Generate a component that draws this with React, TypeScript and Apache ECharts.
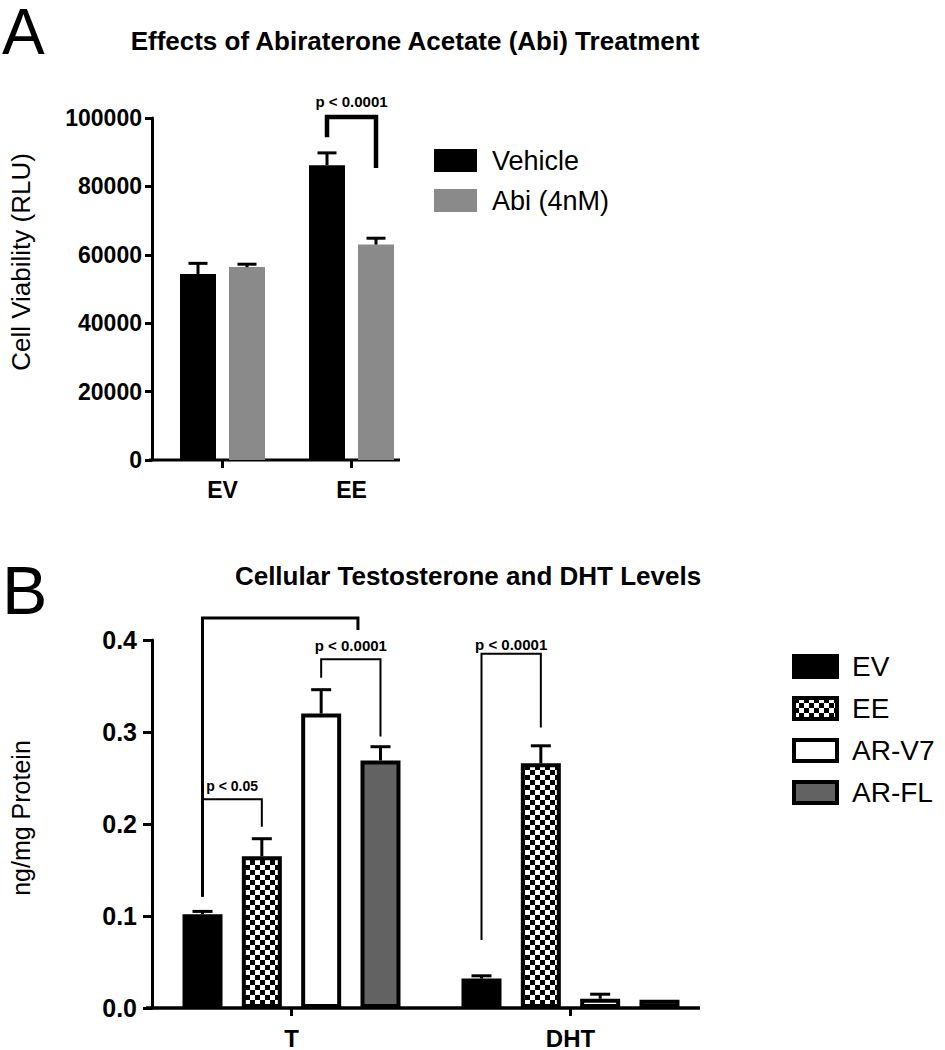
import React, { useEffect, useRef } from 'react';
import * as echarts from 'echarts';

// ---------- Panel A data ----------
const aCategories = ['EV', 'EE'];
const aSeriesNames = ['Vehicle', 'Abi (4nM)'];
const aVehicle = [54400, 86200];
const aVehicleSem = [3100, 3600];
const aAbi = [56400, 63000];
const aAbiSem = [850, 1850];
// bracket: [category, leftBar, rightBar, leftBottom, top, rightBottom]
const aBrackets = [[1, 0, 1, 94400, 100300, 85400]];
const aBracketLabels = ['p < 0.0001'];

// ---------- Panel B data ----------
const bCategories = ['T', 'DHT'];
const bSeriesNames = ['EV', 'EE', 'AR-V7', 'AR-FL'];
const bEV = [0.102, 0.032];
const bEVSem = [0.003, 0.003];
const bEE = [0.165, 0.266];
const bEESem = [0.019, 0.019];
const bARV7 = [0.32, 0.01];
const bARV7Sem = [0.026, 0.005];
const bARFL = [0.269, 0.009];
const bARFLSem = [0.015, 0.0];
const bBrackets = [
  [0, 0, 2.62, 0.121, 0.424, 0.411],
  [0, 0, 1, 0.121, 0.227, 0.197],
  [0, 2, 3, 0.359, 0.379, 0.295],
  [1, 0, 1, 0.074, 0.385, 0.305],
];
const bBracketLabels = ['', 'p < 0.05', 'p < 0.0001', 'p < 0.0001'];

const FONT = "'Liberation Sans', Arial, sans-serif";

// layout constants
const A_BAR_W = 36;
const A_STEP = 49;
const B_BAR_W = 40;
const B_STEP = 59.33;

function errorRenderer(step: number, n: number, capHalf: number, lw: number) {
  return (params: any, api: any) => {
    const cat = api.value(0);
    const mean = api.value(1);
    const top = api.value(2);
    const si = api.value(3);
    const base = api.coord([cat, mean]);
    const t = api.coord([cat, top]);
    const x = base[0] + (si - (n - 1) / 2) * step;
    if (top <= mean) return { type: 'group', children: [] };
    return {
      type: 'group',
      children: [
        { type: 'line', shape: { x1: x, y1: base[1], x2: x, y2: t[1] }, style: { stroke: '#000', lineWidth: lw } },
        { type: 'line', shape: { x1: x - capHalf, y1: t[1], x2: x + capHalf, y2: t[1] }, style: { stroke: '#000', lineWidth: lw } },
      ],
    };
  };
}

function bracketRenderer(labels: string[], gaps: number[], fonts: string[], widths: number[], step: number, n: number) {
  return (params: any, api: any) => {
    const i = params.dataIndex;
    const lw = widths[i];
    const cat = api.value(0);
    const center = api.coord([cat, 0])[0];
    const xl = center + (api.value(1) - (n - 1) / 2) * step;
    const xr = center + (api.value(2) - (n - 1) / 2) * step;
    const yl = api.coord([cat, api.value(3)])[1];
    const yt = api.coord([cat, api.value(4)])[1];
    const yr = api.coord([cat, api.value(5)])[1];
    const children: any[] = [
      {
        type: 'polyline',
        shape: { points: [[xl, yl], [xl, yt], [xr, yt], [xr, yr]] },
        style: { stroke: '#000', lineWidth: lw, fill: 'none', lineJoin: 'miter' },
      },
    ];
    if (labels[i]) {
      children.push({
        type: 'text',
        x: (xl + xr) / 2,
        y: yt - lw / 2 - gaps[i],
        style: { text: labels[i], fill: '#000', font: fonts[i], align: 'center', verticalAlign: 'bottom' },
      });
    }
    return { type: 'group', children };
  };
}

export default function App() {
  const ref = useRef<HTMLDivElement>(null);

  useEffect(() => {
    if (!ref.current) return;
    const chart = echarts.init(ref.current, undefined, { renderer: 'svg' });

    const cv = document.createElement('canvas');
    cv.width = 10;
    cv.height = 10;
    const ctx = cv.getContext('2d')!;
    ctx.fillStyle = '#fff';
    ctx.fillRect(0, 0, 10, 10);
    ctx.fillStyle = '#000';
    ctx.fillRect(0, 0, 5, 5);
    ctx.fillRect(5, 5, 5, 5);
    const checker: any = { image: cv, repeat: 'repeat', imageWidth: 10, imageHeight: 10 };

    const aErr: any[] = [];
    aCategories.forEach((_, c) => {
      aErr.push([c, aVehicle[c], aVehicle[c] + aVehicleSem[c], 0]);
      aErr.push([c, aAbi[c], aAbi[c] + aAbiSem[c], 1]);
    });
    const bMeans = [bEV, bEE, bARV7, bARFL];
    const bSems = [bEVSem, bEESem, bARV7Sem, bARFLSem];
    const bErr: any[] = [];
    bCategories.forEach((_, c) => {
      bMeans.forEach((m, s) => bErr.push([c, m[c], m[c] + bSems[s][c], s]));
    });
    const bFills = ['#000', checker, '#fff', '#626262'];

    const axisLabelBold = (size: number) => ({ color: '#000', fontWeight: 'bold', fontSize: size, fontFamily: FONT });

    const option: any = {
      animation: false,
      backgroundColor: '#fff',
      textStyle: { fontFamily: FONT, color: '#000' },
      grid: [
        { left: 158, top: 118, width: 258, height: 342 },
        { left: 152, top: 640, width: 558, height: 368 },
      ],
      xAxis: [
        {
          type: 'category', gridIndex: 0, data: aCategories,
          axisLine: { show: false },
          axisTick: { show: true, alignWithLabel: true, length: 8, lineStyle: { color: '#000', width: 3 } },
          axisLabel: { ...axisLabelBold(23), margin: 18 },
        },
        {
          type: 'category', gridIndex: 1, data: bCategories,
          axisLine: { show: false },
          axisTick: { show: true, alignWithLabel: true, length: 8, lineStyle: { color: '#000', width: 3 } },
          axisLabel: { ...axisLabelBold(24), margin: 18 },
        },
      ],
      yAxis: [
        {
          type: 'value', gridIndex: 0, min: 0, max: 100000, interval: 20000, offset: 6,
          axisLine: { show: true, lineStyle: { color: '#000', width: 3 } },
          axisTick: { show: true, length: 7, lineStyle: { color: '#000', width: 3 } },
          axisLabel: { ...axisLabelBold(23), margin: 10, formatter: (v: number) => String(v) },
          splitLine: { show: false },
        },
        {
          type: 'value', gridIndex: 1, min: 0, max: 0.4, interval: 0.1,
          axisLine: { show: true, lineStyle: { color: '#000', width: 3 } },
          axisTick: { show: true, length: 9, lineStyle: { color: '#000', width: 3 } },
          axisLabel: { ...axisLabelBold(25), margin: 15, formatter: (v: number) => v.toFixed(1) },
          splitLine: { show: false },
        },
      ],
      legend: [
        {
          data: aSeriesNames, orient: 'vertical', left: 434, top: 147, padding: 0,
          icon: 'rect', itemWidth: 43, itemHeight: 23, itemGap: 13,
          textStyle: { fontSize: 27, color: '#000', fontFamily: FONT, lineHeight: 26, padding: [0, 0, 0, 10] },
        },
        {
          data: bSeriesNames, orient: 'vertical', left: 792, top: 652, padding: 0,
          icon: 'rect', itemWidth: 43, itemHeight: 21, itemGap: 13,
          itemStyle: { borderColor: '#000', borderWidth: 4 },
          textStyle: { fontSize: 28, color: '#000', fontFamily: FONT, lineHeight: 29, padding: [0, 0, 0, 10] },
        },
      ],
      graphic: [
        { type: 'text', left: 2, top: 0, style: { text: 'A', font: `64px ${FONT}`, fill: '#000' } },
        { type: 'text', left: 2, top: 556, style: { text: 'B', font: `68px ${FONT}`, fill: '#000' } },
        { type: 'text', x: 415, y: 41, style: { text: 'Effects of Abiraterone Acetate (Abi) Treatment', font: `bold 26px ${FONT}`, fill: '#000', align: 'center', verticalAlign: 'middle' } },
        { type: 'text', x: 468, y: 576, style: { text: 'Cellular Testosterone and DHT Levels', font: `bold 26px ${FONT}`, fill: '#000', align: 'center', verticalAlign: 'middle' } },
        { type: 'text', x: 21, y: 262, rotation: Math.PI / 2, style: { text: 'Cell Viability (RLU)', font: `26px ${FONT}`, fill: '#000', align: 'center', verticalAlign: 'middle' } },
        { type: 'text', x: 21, y: 818, rotation: Math.PI / 2, style: { text: 'ng/mg Protein', font: `25px ${FONT}`, fill: '#000', align: 'center', verticalAlign: 'middle' } },
        { type: 'line', shape: { x1: 149, y1: 460, x2: 400, y2: 460 }, style: { stroke: '#000', lineWidth: 3 } },
        { type: 'line', shape: { x1: 146, y1: 1008, x2: 700, y2: 1008 }, style: { stroke: '#000', lineWidth: 3.5 } },
      ],
      series: [
        {
          type: 'bar', name: aSeriesNames[0], xAxisIndex: 0, yAxisIndex: 0, data: aVehicle,
          barWidth: A_BAR_W, barGap: `${((A_STEP - A_BAR_W) / A_BAR_W) * 100}%`,
          itemStyle: { color: '#000' },
        },
        {
          type: 'bar', name: aSeriesNames[1], xAxisIndex: 0, yAxisIndex: 0, data: aAbi,
          barWidth: A_BAR_W, barGap: `${((A_STEP - A_BAR_W) / A_BAR_W) * 100}%`,
          itemStyle: { color: '#8a8a8a' },
        },
        ...bSeriesNames.map((name, s) => ({
          type: 'bar', name, xAxisIndex: 1, yAxisIndex: 1, data: bMeans[s],
          barWidth: B_BAR_W, barGap: `${((B_STEP - B_BAR_W) / B_BAR_W) * 100}%`,
          itemStyle: { color: bFills[s], borderColor: '#000', borderWidth: 4 },
        })),
        {
          type: 'custom', xAxisIndex: 0, yAxisIndex: 0, data: aErr, z: 5, silent: true,
          encode: { x: 0, y: [1, 2] },
          renderItem: errorRenderer(A_STEP, 2, 9.5, 3),
        },
        {
          type: 'custom', xAxisIndex: 1, yAxisIndex: 1, data: bErr, z: 5, silent: true,
          encode: { x: 0, y: [1, 2] },
          renderItem: errorRenderer(B_STEP, 4, 10, 3),
        },
        {
          type: 'custom', xAxisIndex: 0, yAxisIndex: 0, data: aBrackets, z: 6, silent: true,
          encode: { x: 0, y: [3, 4, 5] },
          renderItem: bracketRenderer(aBracketLabels, [6], [`bold 15px ${FONT}`], [4.5], A_STEP, 2),
        },
        {
          type: 'custom', xAxisIndex: 1, yAxisIndex: 1, data: bBrackets, z: 6, silent: true,
          encode: { x: 0, y: [3, 4, 5] },
          renderItem: bracketRenderer(
            bBracketLabels,
            [5, 5, 5, 1],
            [`bold 15px ${FONT}`, `bold 14px ${FONT}`, `bold 15px ${FONT}`, `bold 15px ${FONT}`],
            [3, 2, 2, 2],
            B_STEP, 4
          ),
        },
      ],
    };

    chart.setOption(option);
    return () => chart.dispose();
  }, []);

  return (
    <div
      ref={ref}
      style={{ position: 'absolute', left: 0, top: 0, width: 945, height: 1050, background: '#fff' }}
    />
  );
}
